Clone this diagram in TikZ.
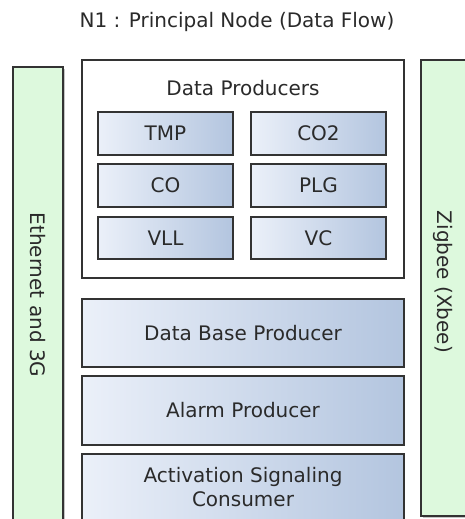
\documentclass[tikz,border=0pt]{standalone}
\usepackage{fontspec}
\setmainfont{DejaVu Sans}
\usetikzlibrary{shadows}
\definecolor{txt}{HTML}{2A2A2A}
\definecolor{edge}{HTML}{333333}
\definecolor{linkgreen}{HTML}{DDF9DD}
\definecolor{blueL}{HTML}{EBF0F9}
\definecolor{blueR}{HTML}{B3C5DF}
\tikzset{
  lbl/.style={text=txt, font=\fontsize{20}{24}\selectfont, inner sep=0pt, align=center},
  linkbox/.style={draw=edge, line width=1.3pt, fill=linkgreen,
    drop shadow={shadow xshift=2pt, shadow yshift=-2pt, fill=black!45, opacity=0.5}},
  groupbox/.style={draw=edge, line width=1.3pt, fill=white},
  unitbox/.style={draw=edge, line width=1.3pt, left color=blueL, right color=blueR}
}
\begin{document}
\begin{tikzpicture}[x=1pt, y=-1pt]
\useasboundingbox (0,0) rectangle (464,519);
\fill[white] (0,0) rectangle (464,519);

% title
\node[lbl] (title) at (237,22) {N1 : Principal Node (Data Flow)};

% communication links on both sides
\draw[linkbox] (13,67) rectangle (63,530);
\node[lbl, rotate=-90] (eth) at (38,295) {Ethernet and 3G};
\draw[linkbox] (421,60) rectangle (472,516);
\node[lbl, rotate=-90] (zig) at (443,282) {Zigbee (Xbee)};

% data producers group
\draw[groupbox] (82,60) rectangle (404,278);
\node[lbl] (dp) at (243,88) {Data Producers};

\draw[unitbox] (98,112) rectangle (233,155);
\node[lbl] (tmp) at (165.5,133.5) {TMP};
\draw[unitbox] (251,112) rectangle (386,155);
\node[lbl] (co2) at (318.5,133.5) {CO2};
\draw[unitbox] (98,164) rectangle (233,207);
\node[lbl] (co) at (165.5,185.5) {CO};
\draw[unitbox] (251,164) rectangle (386,207);
\node[lbl] (plg) at (318.5,185.5) {PLG};
\draw[unitbox] (98,217) rectangle (233,259);
\node[lbl] (vll) at (165.5,238) {VLL};
\draw[unitbox] (251,217) rectangle (386,259);
\node[lbl] (vc) at (318.5,238) {VC};

% stacked services
\draw[unitbox] (82,299) rectangle (404,367);
\node[lbl] (dbp) at (243,333) {Data Base Producer};
\draw[unitbox] (82,376) rectangle (404,445);
\node[lbl] (alarm) at (243,410.5) {Alarm Producer};
\draw[unitbox] (82,454) rectangle (404,522);
\node[lbl] (act) at (243,487) {Activation Signaling\\Consumer};
\end{tikzpicture}
\end{document}
